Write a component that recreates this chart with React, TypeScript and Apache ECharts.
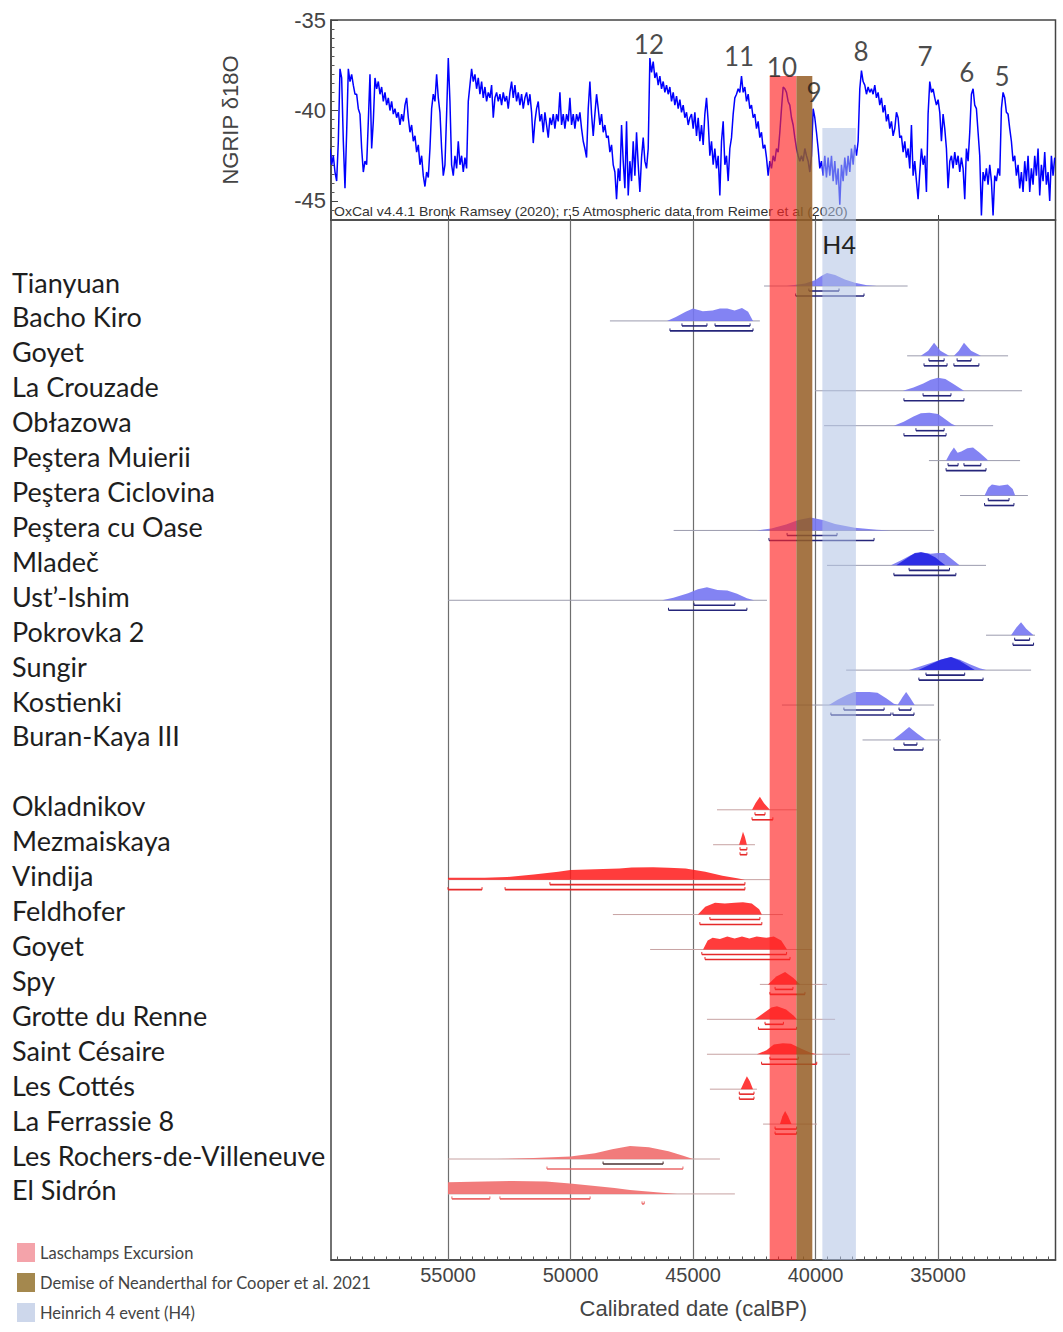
import React, { useEffect, useRef } from 'react';
import * as echarts from 'echarts';

// ---------- axis ranges & tick labels ----------
const X_MIN = 30204;
const X_MAX = 59775;
const xTickLabels = [55000, 50000, 45000, 40000, 35000];
const yTickLabels = [-35, -40, -45];
const Y_MIN = -46.05;
const Y_MAX = -35;

// ---------- NGRIP d18O record (68-yr spacing) ----------
const ngripStartBP = 59816;
const ngripStepYears = 68;
const ngripValues = [
  // 59816 .. 52530
  -42.1, -43.0, -42.5, -43.4, -43.9, -41.7, -37.7, -38.2, -41.7, -44.3,
  -41.2, -37.7, -38.4, -38.0, -38.6, -39.1, -39.1, -39.9, -40.2, -42.1,
  -43.4, -42.8, -43.0, -40.6, -38.0, -42.1, -40.6, -38.2, -38.8, -38.4,
  -39.1, -38.7, -39.5, -39.0, -39.7, -39.3, -40.0, -39.5, -40.2, -39.9,
  -40.4, -40.1, -40.8, -40.2, -40.6, -39.7, -39.3, -40.4, -41.2, -40.8,
  -41.7, -41.4, -42.3, -41.9, -43.0, -42.5, -43.6, -44.2, -43.4, -43.7,
  -42.1, -39.9, -39.1, -39.5, -38.0, -39.3, -40.1, -42.1, -43.6, -43.0,
  -40.2, -37.1, -39.5, -43.0, -43.6, -42.5, -43.2, -41.7, -43.0, -42.5,
  -43.4, -42.6, -43.2, -39.5, -38.6, -37.7, -38.4, -38.0, -38.8, -38.2,
  -39.1, -38.4, -39.3, -38.7, -39.5, -39.0, -39.3, -38.6, -40.4, -39.3,
  -39.0, -39.5, -39.1, -39.7, -39.0, -39.5, -39.2, -39.9,
  // 52470 ..
  -39.0, -38.4, -39.3, -38.6, -39.5, -39.0, -39.7, -39.1, -39.9, -39.3,
  -39.0, -39.7, -39.1, -40.1, -41.8, -40.6, -39.9, -39.5, -40.6, -40.2,
  -41.2, -40.1, -40.8, -41.5, -40.4, -40.8, -40.2, -41.0, -40.2, -40.6,
  -39.0, -40.8, -40.2, -41.0, -40.2, -40.6, -39.3, -40.8, -40.2, -41.0,
  -40.2, -40.6, -40.1, -41.0, -41.7, -42.1, -42.6, -39.9, -38.4, -40.2,
  -41.4, -40.2, -39.1, -39.9, -40.8, -40.2, -41.2, -40.8, -41.5, -41.4,
  -42.3, -41.9, -43.0, -43.4, -44.9, -43.2, -43.9, -40.8, -42.8, -44.3,
  -40.6, -44.7, -42.8, -43.9, -41.7, -43.6, -41.2, -43.0, -44.5, -42.6,
  -41.5, -42.8, -43.2, -42.1, -37.1, -37.9, -37.3, -38.2, -37.9, -38.6,
  -38.1, -38.8, -38.4, -39.0, -38.6, -39.1, -38.7, -39.5, -39.0, -39.7,
  -39.2, -39.9, -39.4, -40.1, -39.7, -40.4, -40.1, -40.8,
  // 45120 ..
  -40.4, -40.2, -41.0, -40.1, -41.4, -40.4, -41.7, -40.8, -41.9, -40.2,
  -39.3, -40.6, -42.5, -41.7, -43.0, -42.1, -43.2, -42.5, -44.7, -41.7,
  -40.6, -43.0, -42.5, -43.9, -42.1, -41.5, -40.2, -39.3, -39.1, -38.8,
  -39.0, -38.1, -39.0, -38.7, -39.5, -39.1, -39.9, -39.7, -40.4, -40.2,
  -41.0, -40.6, -41.5, -41.2, -42.1, -41.9, -42.6, -43.6, -42.8, -43.2,
  -42.5, -42.8, -42.1, -42.3, -41.2, -39.9, -38.7, -38.8, -39.0, -39.5,
  -39.7, -40.4, -40.8, -41.5, -42.1, -42.5, -42.8, -42.5, -42.8, -42.1,
  -42.5, -42.8, -43.4, -42.5, -39.9, -40.4, -41.2, -42.1, -43.2, -42.8,
  -43.6, -42.5, -43.7, -42.6, -43.6, -42.5, -43.9, -42.8, -44.1, -43.2,
  -45.2, -43.0, -43.9, -42.6, -43.6, -42.5, -43.4, -42.1, -43.0, -41.9,
  -42.5, -41.7, -38.8, -37.8, -38.4, -38.6, -39.1, -38.7,
  // 37776 ..
  -39.0, -38.8, -39.1, -38.6, -39.3, -39.0, -39.7, -39.3, -40.1, -39.7,
  -40.6, -40.2, -41.0, -40.6, -41.4, -41.0, -40.1, -40.4, -41.5, -41.4,
  -42.3, -41.7, -42.6, -42.1, -43.2, -40.8, -43.6, -42.8, -43.9, -44.9,
  -43.4, -42.1, -43.0, -42.5, -44.5, -40.2, -38.4, -39.0, -38.8, -39.3,
  -39.7, -39.4, -40.1, -41.7, -40.2, -41.0, -42.1, -44.3, -42.8, -42.5,
  -43.2, -42.3, -43.0, -42.5, -43.4, -42.6, -43.2, -44.9, -42.1, -42.8,
  -41.2, -39.1, -38.8, -39.7, -39.9, -41.2, -42.5, -45.8, -43.4, -43.9,
  -43.2, -44.1, -43.0, -43.9, -45.8, -43.6, -43.9, -43.2, -43.6, -39.9,
  -39.0, -39.3, -40.1, -40.2, -41.0, -41.7, -42.8, -42.5, -43.6, -43.0,
  -44.3, -43.4, -44.5, -42.8, -43.9, -42.5, -44.5, -43.2, -44.1, -42.5,
  -43.6, -42.1, -44.7, -43.0, -43.9, -42.3, -44.1, -43.4, -45.0, -42.5, -43.6, -42.6,
];

// Dansgaard-Oeschger event numbers: [label, calBP, d18O]
const doLabels: [string, number, number][] = [
  ['12', 46800, -36.3],
  ['11', 43120, -37.0],
  ['10', 41370, -37.6],
  ['9', 40060, -39.0],
  ['8', 38140, -36.7],
  ['7', 35530, -37.0],
  ['6', 33820, -37.9],
  ['5', 32390, -38.1],
];

// ---------- shaded events (calBP) ----------
const laschampsRange = [41870, 40780];
const demiseRange = [40780, 40130];
const h4Range = [39720, 38350];
const laschampsTopD18O = -38.1;
const demiseTopD18O = -38.1;
const h4TopD18O = -40.97;

const legendNames = [
  'Laschamps Excursion',
  'Demise of Neanderthal for Cooper et al. 2021',
  'Heinrich 4 event (H4)',
];

// ---------- sites ----------
const modernSites = [
  'Tianyuan', 'Bacho Kiro', 'Goyet', 'La Crouzade', 'Obłazowa', 'Peştera Muierii',
  'Peştera Ciclovina', 'Peştera cu Oase', 'Mladeč', 'Ust’-Ishim', 'Pokrovka 2',
  'Sungir', 'Kostienki', 'Buran-Kaya III',
];
const neanderthalSites = [
  'Okladnikov', 'Mezmaiskaya', 'Vindija', 'Feldhofer', 'Goyet', 'Spy',
  'Grotte du Renne', 'Saint Césaire', 'Les Cottés', 'La Ferrassie 8',
  'Les Rochers-de-Villeneuve', 'El Sidrón',
];
const rowLabels = [...modernSites, '', ...neanderthalSites];

// full calibrated ranges (thin baseline) [site, from, to]
const modernBaselines: [string, number, number][] = [
  ['Tianyuan', 42100, 36240],
  ['Bacho Kiro', 48390, 42270],
  ['Goyet', 36260, 32140],
  ['La Crouzade', 40020, 31570],
  ['Obłazowa', 39650, 32750],
  ['Peştera Muierii', 35370, 31650],
  ['Peştera Ciclovina', 34100, 31330],
  ['Peştera cu Oase', 45790, 35160],
  ['Mladeč', 39530, 33040],
  ['Ust’-Ishim', 55000, 41980],
  ['Pokrovka 2', 33040, 31040],
  ['Sungir', 38750, 31200],
  ['Kostienki', 41370, 35160],
  ['Buran-Kaya III', 38080, 34880],
];
const neanderthalBaselines: [string, number, number][] = [
  ['Okladnikov', 44020, 40760],
  ['Mezmaiskaya', 44180, 42470],
  ['Vindija', 55000, 41860],
  ['Feldhofer', 48270, 41330],
  ['Goyet', 46750, 40140],
  ['Spy', 42270, 39530],
  ['Grotte du Renne', 44430, 39200],
  ['Saint Césaire', 44430, 38590],
  ['Les Cottés', 44310, 42390],
  ['La Ferrassie 8', 42140, 39940],
  ['Les Rochers-de-Villeneuve', 55000, 43900],
  ['El Sidrón', 55000, 43290],
];

// probability distributions: [calBP, relative probability]
type Density = { site: string; pts: [number, number][] };
const modernDensities: Density[] = [
  { site: 'Tianyuan', pts: [[41160, 0], [40430, 0.2], [40020, 0.45], [39730, 0.8], [39530, 1], [39200, 0.85], [38800, 0.5], [38390, 0.25], [37900, 0.06], [37490, 0]] },
  { site: 'Bacho Kiro', pts: [[46060, 0], [45700, 0.3], [45300, 0.7], [45000, 0.95], [44600, 0.75], [44200, 0.8], [43900, 0.95], [43600, 0.95], [43300, 0.8], [43000, 1], [42750, 0.7], [42550, 0]] },
  { site: 'Goyet', pts: [[35700, 0], [35400, 0.4], [35160, 1], [34900, 0.4], [34550, 0]] },
  { site: 'Goyet', pts: [[34350, 0], [34150, 0.4], [33940, 1], [33650, 0.4], [33250, 0]] },
  { site: 'La Crouzade', pts: [[36430, 0], [36000, 0.25], [35600, 0.55], [35300, 0.85], [35000, 1], [34700, 0.9], [34400, 0.55], [34100, 0.2], [33940, 0]] },
  { site: 'Obłazowa', pts: [[36800, 0], [36400, 0.3], [36000, 0.7], [35700, 0.95], [35350, 1], [35000, 0.9], [34700, 0.5], [34450, 0.15], [34270, 0]] },
  { site: 'Peştera Muierii', pts: [[34670, 0], [34500, 0.6], [34350, 1], [34200, 0.6], [34050, 0.7], [33800, 0.95], [33570, 1], [33300, 0.6], [33000, 0.1], [32960, 0]] },
  { site: 'Peştera Ciclovina', pts: [[33100, 0], [32950, 0.6], [32800, 0.85], [32500, 0.75], [32150, 0.85], [31950, 0.5], [31850, 0]] },
  { site: 'Peştera cu Oase', pts: [[42390, 0], [41800, 0.15], [41200, 0.45], [40700, 0.8], [40200, 1], [39700, 0.8], [39200, 0.5], [38400, 0.2], [37500, 0.06], [36920, 0]] },
  { site: 'Mladeč', pts: [[36920, 0], [36500, 0.4], [36100, 0.8], [35700, 1], [35300, 0.9], [35000, 0.95], [34750, 0.95], [34450, 0.5], [34120, 0]] },
  { site: 'Ust’-Ishim', pts: [[46260, 0], [45800, 0.2], [45200, 0.55], [44800, 0.85], [44430, 1], [44000, 0.8], [43600, 0.75], [43200, 0.5], [42800, 0.15], [42510, 0]] },
  { site: 'Pokrovka 2', pts: [[32020, 0], [31800, 0.6], [31610, 1], [31400, 0.5], [31100, 0]] },
  { site: 'Sungir', pts: [[36180, 0], [35700, 0.3], [35200, 0.6], [34800, 0.85], [34470, 1], [34100, 0.8], [33700, 0.45], [33300, 0.15], [33040, 0]] },
  { site: 'Kostienki', pts: [[39450, 0], [39100, 0.4], [38700, 0.8], [38430, 1], [37800, 1], [37470, 0.95], [37100, 0.5], [36800, 0.1], [36600, 0]] },
  { site: 'Kostienki', pts: [[36650, 0], [36450, 0.6], [36300, 1], [36150, 0.6], [35950, 0]] },
  { site: 'Buran-Kaya III', pts: [[36840, 0], [36500, 0.5], [36180, 1], [35850, 0.5], [35490, 0]] },
];
const modernCoreDensities: Density[] = [
  { site: 'Mladeč', pts: [[36700, 0], [36300, 0.5], [35950, 0.95], [35690, 1], [35400, 0.9], [35100, 0.6], [34900, 0.3], [34700, 0]] },
  { site: 'Sungir', pts: [[35800, 0], [35300, 0.45], [34900, 0.8], [34470, 1], [34150, 0.75], [33800, 0.35], [33500, 0]] },
];
const neanderthalDensities: Density[] = [
  { site: 'Okladnikov', pts: [[42590, 0], [42450, 0.5], [42270, 1], [42100, 0.5], [41860, 0]] },
  { site: 'Mezmaiskaya', pts: [[43120, 0], [43020, 0.6], [42960, 1], [42880, 0.6], [42800, 0]] },
  { site: 'Vindija', pts: [[55000, 0], [55000, 0.15], [53500, 0.15], [52590, 0.2], [51500, 0.4], [50500, 0.6], [50000, 0.75], [49000, 0.8], [48000, 0.85], [47500, 0.93], [46630, 0.95], [46000, 0.92], [45300, 0.85], [44500, 0.6], [43800, 0.3], [43200, 0.1], [42880, 0]] },
  { site: 'Feldhofer', pts: [[44800, 0], [44500, 0.6], [44100, 0.9], [43700, 0.85], [43300, 0.9], [42960, 0.95], [42600, 0.85], [42300, 0.4], [42190, 0]] },
  { site: 'Goyet', pts: [[44590, 0], [44400, 0.7], [44200, 0.9], [43900, 0.8], [43600, 1], [43300, 0.85], [43000, 1], [42700, 0.85], [42400, 1], [42000, 0.9], [41700, 1], [41400, 0.7], [41160, 0]] },
  { site: 'Spy', pts: [[41940, 0], [41600, 0.6], [41240, 0.95], [40900, 0.5], [40630, 0]] },
  { site: 'Grotte du Renne', pts: [[42470, 0], [42100, 0.5], [41800, 0.9], [41570, 1], [41200, 0.75], [40900, 0.3], [40760, 0]] },
  { site: 'Saint Césaire', pts: [[42390, 0], [42000, 0.3], [41700, 0.75], [41330, 0.85], [41000, 0.8], [40600, 0.45], [40200, 0.12], [39940, 0]] },
  { site: 'Les Cottés', pts: [[43050, 0], [42900, 0.6], [42800, 1], [42680, 0.6], [42550, 0]] },
  { site: 'La Ferrassie 8', pts: [[41450, 0], [41350, 0.6], [41240, 1], [41120, 0.6], [40980, 0]] },
];
const neanderthalPaleDensities: Density[] = [
  { site: 'Les Rochers-de-Villeneuve', pts: [[53000, 0], [51500, 0.08], [50000, 0.2], [49000, 0.45], [48300, 0.75], [47570, 1], [46800, 0.9], [46000, 0.6], [45400, 0.25], [45000, 0]] },
  { site: 'El Sidrón', pts: [[55000, 0], [55000, 0.9], [53500, 0.95], [52350, 1], [51000, 0.95], [50020, 0.8], [49000, 0.6], [48200, 0.45], [47570, 0.3], [46500, 0.12], [45650, 0]] },
];

// highest-density ranges: [site, level (1 = 68.3 %, 2 = 95.4 %), from, to]
type Range = [string, number, number, number];
const modernRanges: Range[] = [
  ['Tianyuan', 1, 40270, 39040], ['Tianyuan', 2, 40810, 38020],
  ['Bacho Kiro', 1, 45450, 44430], ['Bacho Kiro', 1, 44100, 42670], ['Bacho Kiro', 2, 45940, 42550],
  ['Goyet', 1, 35370, 34750], ['Goyet', 1, 34220, 33650], ['Goyet', 2, 35570, 34630], ['Goyet', 2, 34350, 33330],
  ['La Crouzade', 1, 35610, 34470], ['La Crouzade', 2, 36390, 33940],
  ['Obłazowa', 1, 35900, 34750], ['Obłazowa', 2, 36390, 34670],
  ['Peştera Muierii', 1, 34590, 34180], ['Peştera Muierii', 1, 33940, 33250], ['Peştera Muierii', 2, 34670, 33040],
  ['Peştera Ciclovina', 1, 32950, 32100], ['Peştera Ciclovina', 2, 33100, 31900],
  ['Peştera cu Oase', 1, 41160, 39120], ['Peştera cu Oase', 2, 41900, 37610],
  ['Mladeč', 1, 36180, 34530], ['Mladeč', 2, 36800, 34270],
  ['Ust’-Ishim', 1, 44960, 43290], ['Ust’-Ishim', 2, 46000, 42800],
  ['Pokrovka 2', 1, 31870, 31260], ['Pokrovka 2', 2, 31940, 31100],
  ['Sungir', 1, 35490, 33910], ['Sungir', 2, 35780, 33160],
  ['Kostienki', 1, 38840, 37200], ['Kostienki', 1, 36590, 36100], ['Kostienki', 2, 39370, 36920], ['Kostienki', 2, 36840, 35980],
  ['Buran-Kaya III', 1, 36390, 35860], ['Buran-Kaya III', 2, 36800, 35610],
];
const neanderthalRanges: Range[] = [
  ['Okladnikov', 1, 42470, 42060], ['Okladnikov', 2, 42590, 41740],
  ['Mezmaiskaya', 1, 43080, 42800], ['Mezmaiskaya', 2, 43080, 42800],
  ['Vindija', 1, 50840, 42880], ['Vindija', 2, 55000, 53610], ['Vindija', 2, 52670, 42880],
  ['Feldhofer', 1, 44310, 42270], ['Feldhofer', 2, 44720, 42190],
  ['Goyet', 1, 44640, 41180], ['Goyet', 2, 44510, 41040],
  ['Spy', 1, 41650, 40920], ['Spy', 2, 41860, 40430],
  ['Grotte du Renne', 1, 42060, 41310], ['Grotte du Renne', 2, 42330, 40770],
  ['Saint Césaire', 1, 41860, 40700], ['Saint Césaire', 2, 42200, 39950],
  ['Les Cottés', 1, 43110, 42510], ['Les Cottés', 2, 43110, 42510],
  ['La Ferrassie 8', 1, 41650, 40770], ['La Ferrassie 8', 2, 41650, 40770],
];
const neanderthalPaleRanges: Range[] = [
  ['Les Rochers-de-Villeneuve', 2, 50960, 45410],
  ['El Sidrón', 1, 54840, 53290], ['El Sidrón', 1, 52880, 49200], ['El Sidrón', 2, 47080, 46990],
];
const neanderthalDarkRanges: Range[] = [
  ['Les Rochers-de-Villeneuve', 1, 48670, 46220],
];

// ---------- styling constants ----------
const DENSITY_HEIGHT = 13;
const RANGE_OFFSET = 5;
const LABEL_FONT = 'Lato';
const AXIS_FONT = '"Liberation Sans", Arial, sans-serif';

const modernRow = (s: string) => modernSites.indexOf(s);
const neanderthalRow = (s: string) => modernSites.length + 1 + neanderthalSites.indexOf(s);

function densitySeries(list: Density[], rowOf: (s: string) => number, color: string, opacity: number, z: number) {
  return {
    type: 'custom',
    xAxisIndex: 3,
    yAxisIndex: 3,
    z,
    silent: true,
    encode: { x: 0, y: 1 },
    data: list.map((d, i) => [d.pts[0][0], rowOf(d.site), i]),
    renderItem: (_p: any, api: any) => {
      const d = list[api.value(2)];
      const row = api.value(1);
      const points = d.pts.map((p) => {
        const c = api.coord([p[0], row]);
        return [c[0], c[1] - p[1] * DENSITY_HEIGHT];
      });
      return { type: 'polygon', shape: { points }, style: { fill: color, opacity } };
    },
  };
}

function baselineSeries(list: [string, number, number][], rowOf: (s: string) => number, color: string) {
  return {
    type: 'custom',
    xAxisIndex: 3,
    yAxisIndex: 3,
    z: 2,
    silent: true,
    encode: { x: 0, y: 1 },
    data: list.map((b) => [b[1], rowOf(b[0]), b[2]]),
    renderItem: (_p: any, api: any) => {
      const row = api.value(1);
      const a = api.coord([api.value(0), row]);
      const b = api.coord([api.value(2), row]);
      return { type: 'line', shape: { x1: a[0], y1: a[1], x2: b[0], y2: b[1] }, style: { stroke: color, lineWidth: 1 } };
    },
  };
}

function rangeSeries(list: Range[], rowOf: (s: string) => number, color: string) {
  return {
    type: 'custom',
    xAxisIndex: 3,
    yAxisIndex: 3,
    z: 4,
    silent: true,
    encode: { x: 0, y: 1 },
    data: list.map((r) => [r[2], rowOf(r[0]), r[3], r[1]]),
    renderItem: (_p: any, api: any) => {
      const row = api.value(1);
      const off = api.value(3) * RANGE_OFFSET;
      const a = api.coord([api.value(0), row]);
      const b = api.coord([api.value(2), row]);
      const y = a[1] + off;
      const st = { stroke: color, lineWidth: 1.6 };
      return {
        type: 'group',
        children: [
          { type: 'line', shape: { x1: a[0], y1: y, x2: b[0], y2: y }, style: st },
          { type: 'line', shape: { x1: a[0], y1: y - 2.5, x2: a[0], y2: y }, style: { stroke: color, lineWidth: 1 } },
          { type: 'line', shape: { x1: b[0], y1: y - 2.5, x2: b[0], y2: y }, style: { stroke: color, lineWidth: 1 } },
        ],
      };
    },
  };
}

const xMinorTicks: number[] = [];
for (let v = 30500; v <= 59500; v += 500) if (v % 5000 !== 0) xMinorTicks.push(v);
const yMinorTicks: number[] = [];
for (let v = -35.5; v >= -46; v -= 0.5) if (v % 5 !== 0) yMinorTicks.push(v);

const bandDefs = [
  { name: legendNames[0], range: laschampsRange, top: laschampsTopD18O, fill: '#ff2323', opacity: 0.65, legend: '#f4a3aa', label: '' },
  { name: legendNames[1], range: demiseRange, top: demiseTopD18O, fill: '#955d24', opacity: 0.85, legend: '#a4884e', label: '' },
  { name: legendNames[2], range: h4Range, top: h4TopD18O, fill: '#afc1e4', opacity: 0.55, legend: '#cdd7eb', label: 'H4' },
];

export default function App() {
  const ref = useRef<HTMLDivElement>(null);
  useEffect(() => {
    document.body.style.margin = '0';
    if (!ref.current) return;
    const chart = echarts.init(ref.current, null, { renderer: 'svg' });

    const ngripData = ngripValues.map((v, i) => [ngripStartBP - i * ngripStepYears, v]);

    const xBase = { type: 'value', min: X_MIN, max: X_MAX, inverse: true, splitLine: { show: false } };

    const bandSeries: any[] = [];
    bandDefs.forEach((b) => {
      bandSeries.push({
        name: b.name, type: 'line', xAxisIndex: 0, yAxisIndex: 0, data: [], z: 6,
        color: b.legend, itemStyle: { color: b.legend }, lineStyle: { color: b.legend },
        markArea: {
          silent: true, z: 6,
          itemStyle: { color: b.fill, opacity: b.opacity },
          label: { show: false },
          data: [[{ xAxis: b.range[0], yAxis: b.top }, { xAxis: b.range[1], yAxis: Y_MIN }]],
        },
      });
      bandSeries.push({
        name: b.name, type: 'line', xAxisIndex: 1, yAxisIndex: 2, data: [], z: 6,
        color: b.legend, itemStyle: { color: b.legend }, lineStyle: { color: b.legend },
        markArea: {
          silent: true, z: 6,
          itemStyle: { color: b.fill, opacity: b.opacity },
          label: b.label
            ? { show: true, position: 'insideTop', distance: 11, formatter: b.label, fontSize: 25, color: '#222', fontFamily: LABEL_FONT }
            : { show: false },
          data: [[{ xAxis: b.range[0] }, { xAxis: b.range[1] }]],
        },
      });
    });

    const option: any = {
      animation: false,
      backgroundColor: '#ffffff',
      textStyle: { fontFamily: AXIS_FONT },
      grid: [
        { left: 331, top: 20, width: 724.5, height: 200, show: true, borderColor: '#444', borderWidth: 1.5, backgroundColor: 'transparent' },
        { left: 331, top: 220, width: 724.5, height: 1040, show: true, borderColor: '#444', borderWidth: 1.5, backgroundColor: 'transparent' },
        { left: 331, top: 268.54, width: 724.5, height: 942.84, show: false },
      ],
      xAxis: [
        { ...xBase, gridIndex: 0, position: 'bottom', axisLine: { show: false }, axisLabel: { show: false },
          axisTick: { show: true, inside: true, length: 5, customValues: xTickLabels, lineStyle: { color: '#444' } } },
        { ...xBase, gridIndex: 1, position: 'bottom',
          axisLine: { show: true, lineStyle: { color: '#444', width: 1.5 } },
          axisTick: { show: true, inside: true, length: 7, customValues: xTickLabels, lineStyle: { color: '#444' } },
          axisLabel: { customValues: xTickLabels, formatter: (v: number) => String(v), fontSize: 20, color: '#444', margin: 5, fontFamily: AXIS_FONT },
          name: 'Calibrated date (calBP)', nameLocation: 'middle', nameGap: 37,
          nameTextStyle: { fontSize: 22, color: '#444', fontFamily: AXIS_FONT } },
        { ...xBase, gridIndex: 1, position: 'bottom', axisLine: { show: false }, axisLabel: { show: false },
          axisTick: { show: true, inside: true, length: 3.5, customValues: xMinorTicks, lineStyle: { color: '#555' } } },
        { ...xBase, gridIndex: 2, show: false },
      ],
      yAxis: [
        { gridIndex: 0, type: 'value', min: Y_MIN, max: Y_MAX, position: 'left', splitLine: { show: false },
          axisLine: { show: true, lineStyle: { color: '#444', width: 1.5 } },
          axisTick: { show: true, inside: true, length: 7, customValues: yTickLabels, lineStyle: { color: '#444' } },
          axisLabel: { customValues: yTickLabels, fontSize: 22, color: '#444', margin: 5, fontFamily: AXIS_FONT },
          name: 'NGRIP δ18O', nameLocation: 'middle', nameGap: 90, nameRotate: 90,
          nameTextStyle: { fontSize: 22, color: '#444', fontFamily: AXIS_FONT } },
        { gridIndex: 0, type: 'value', min: Y_MIN, max: Y_MAX, position: 'left', splitLine: { show: false },
          axisLine: { show: false }, axisLabel: { show: false },
          axisTick: { show: true, inside: true, length: 3.5, customValues: yMinorTicks, lineStyle: { color: '#555' } } },
        { gridIndex: 1, type: 'value', min: 0, max: 1, show: false },
        { gridIndex: 2, type: 'category', data: rowLabels, inverse: true,
          axisLine: { show: false }, axisTick: { show: false }, splitLine: { show: false },
          axisLabel: { interval: 0, hideOverlap: false, align: 'left', verticalAlign: 'bottom', lineHeight: 8, margin: 319,
            fontSize: 27, color: '#1e1e1e', fontFamily: LABEL_FONT } },
      ],
      legend: {
        data: legendNames, orient: 'vertical', left: 12, top: 1238, itemWidth: 18, itemHeight: 19, itemGap: 11,
        icon: 'rect', selectedMode: false, textStyle: { fontSize: 16.5, color: '#444', fontFamily: LABEL_FONT },
      },
      graphic: [
        { type: 'text', left: 334, top: 206, silent: true, scaleX: 1.17,
          style: { text: 'OxCal v4.4.1 Bronk Ramsey (2020); r:5 Atmospheric data from Reimer et al (2020)', font: '12px "Liberation Sans", Arial, sans-serif', fill: '#333' } },
      ],
      series: [
        { type: 'line', xAxisIndex: 0, yAxisIndex: 0, data: ngripData, symbol: 'none', silent: true, z: 2,
          lineStyle: { color: '#0000ff', width: 1.5 } },
        { type: 'line', xAxisIndex: 1, yAxisIndex: 2, data: [], z: 1, silent: true,
          markLine: { silent: true, z: 1, symbol: ['none', 'none'], label: { show: false },
            lineStyle: { color: '#6e6e6e', width: 1.2, type: 'solid' },
            data: xTickLabels.map((v) => ({ xAxis: v })) } },
        ...bandSeries,
        baselineSeries(modernBaselines, modernRow, '#9c9cae'),
        baselineSeries(neanderthalBaselines, neanderthalRow, '#c7a2a2'),
        densitySeries(modernDensities, modernRow, '#7676f2', 0.9, 3),
        densitySeries(modernCoreDensities, modernRow, '#1f1fe0', 0.85, 3),
        densitySeries(neanderthalDensities, neanderthalRow, '#ff1a1a', 0.85, 3),
        densitySeries(neanderthalPaleDensities, neanderthalRow, '#f07474', 0.95, 3),
        rangeSeries(modernRanges, modernRow, '#25257a'),
        rangeSeries(neanderthalRanges, neanderthalRow, '#e52a2a'),
        rangeSeries(neanderthalPaleRanges, neanderthalRow, '#ea6a6a'),
        rangeSeries(neanderthalDarkRanges, neanderthalRow, '#4a3030'),
        { type: 'scatter', xAxisIndex: 0, yAxisIndex: 0, symbolSize: 0, z: 10, silent: true,
          data: doLabels.map((d) => ({ name: d[0], value: [d[1], d[2]] })),
          label: { show: true, position: 'inside', formatter: '{b}', fontSize: 26, color: '#1a1a1a', fontFamily: LABEL_FONT } },
      ],
    };
    chart.setOption(option);
    return () => chart.dispose();
  }, []);
  return <div ref={ref} style={{ width: 1063, height: 1332 }} />;
}
